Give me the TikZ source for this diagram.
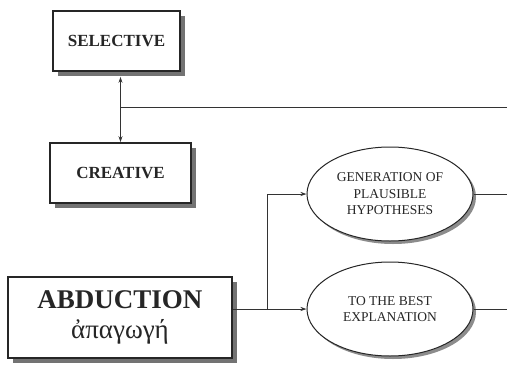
\documentclass[tikz,border=0pt]{standalone}
\usepackage{fontspec}
\setmainfont{Liberation Serif}
\usetikzlibrary{shapes.geometric,shadows,arrows.meta}

\begin{document}
\begin{tikzpicture}[x=1pt,y=-1pt,
  every node/.style={text=black!85},
  kindbox/.style={draw=black!85,line width=1.6pt,fill=white,rectangle,
    drop shadow={shadow xshift=5pt,shadow yshift=-5pt,fill=black!55,opacity=1}},
  oval/.style={draw=black!85,line width=1pt,fill=white,ellipse,
    minimum width=166pt,minimum height=94pt,align=center,
    font=\fontsize{13.5}{16.5}\selectfont,
    drop shadow={shadow xshift=3pt,shadow yshift=-3pt,fill=black!45,opacity=1}},
  link/.style={draw=black!80,line width=0.8pt},
  tip/.style={-{Stealth[length=6pt,width=4pt]}}]
  \useasboundingbox (0,0) rectangle (507,365);

  % selective / creative boxes
  \node[kindbox,minimum width=127pt,minimum height=60pt,
        font=\fontsize{17}{20}\bfseries] (sel) at (116.5,41) {SELECTIVE};
  \node[kindbox,minimum width=141pt,minimum height=60pt,
        font=\fontsize{17}{20}\bfseries] (cre) at (120.5,173) {CREATIVE};

  % abduction box
  \node[kindbox,minimum width=224pt,minimum height=81pt,align=center,
        font=\fontsize{27}{30}\selectfont] (abd) at (120,317.5)
        {\textbf{ABDUCTION}\\ ἀπαγωγή};

  % the two ellipses
  \node[oval] (gen) at (390,194) {GENERATION OF\\PLAUSIBLE\\HYPOTHESES};
  \node[oval] (best) at (390,309) {TO THE BEST\\EXPLANATION};

  % free ends at the right edge
  \coordinate (j) at (120,107);
  \coordinate (r) at (507,107);
  \coordinate (genout) at (507,194);
  \coordinate (bestout) at (507,309);
  \coordinate (fork) at (267,309);

  % selective <-> creative
  \draw[link,{Stealth[length=6pt,width=4pt]}-{Stealth[length=6pt,width=4pt]},
        shorten <=5pt] (sel.south -| cre.north) -- (cre.north);
  \draw[link] (j) -- (r);

  % abduction to the ellipses
  \draw[link] (abd.east |- fork) -- (fork);
  \draw[link,tip] (fork) |- (gen.west);
  \draw[link,tip] (fork) -- (best.west);

  % out to the right
  \draw[link] (gen.east) -- (genout);
  \draw[link] (best.east) -- (bestout);

\end{tikzpicture}
\end{document}
